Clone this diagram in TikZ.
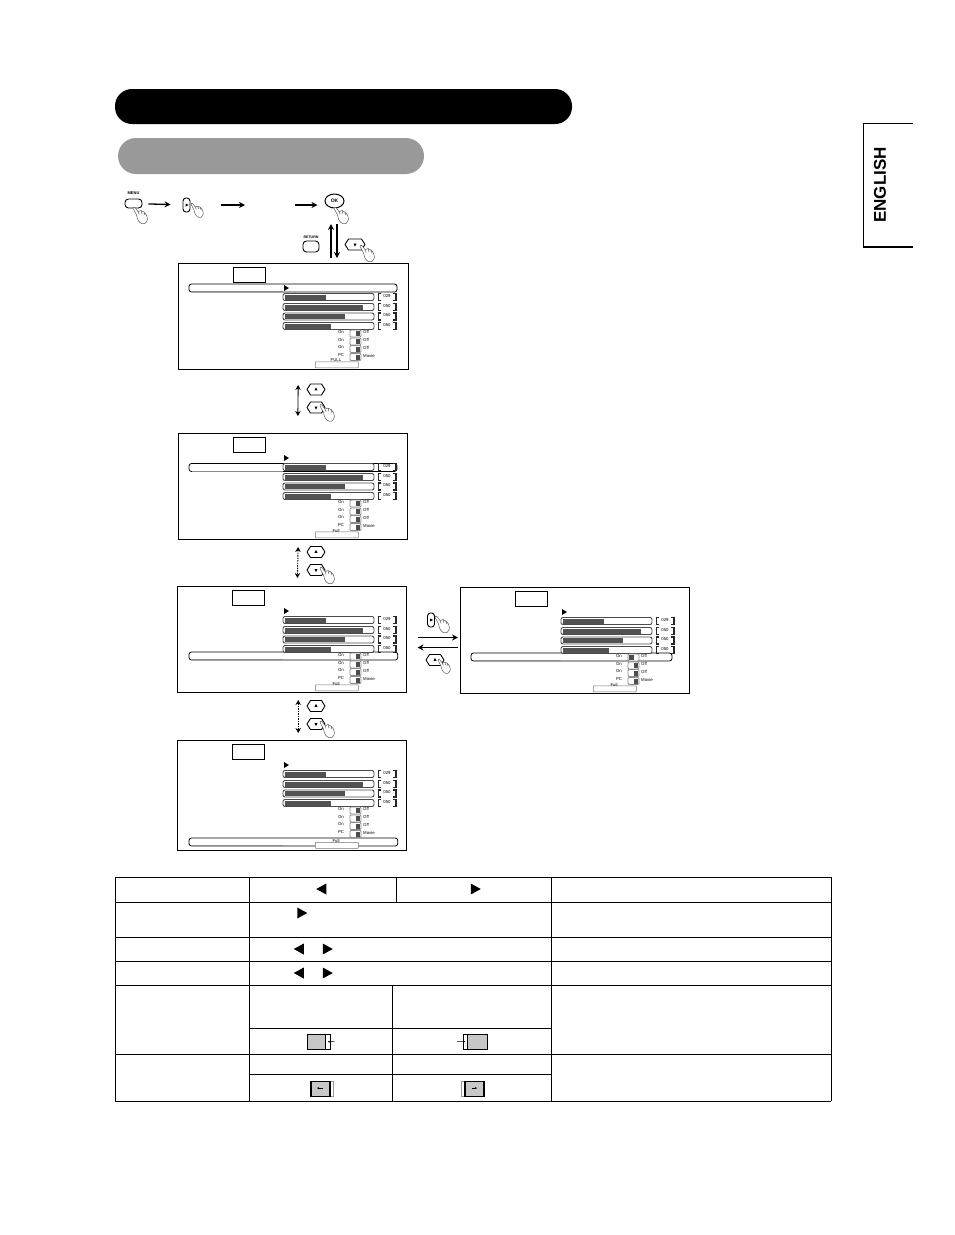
\documentclass[tikz,border=0pt]{standalone}
\usepackage{fontspec}
\setmainfont{Liberation Sans}
\usetikzlibrary{arrows.meta,shapes.geometric,shapes.symbols}

\begin{document}
\begin{tikzpicture}[x=1pt,y=-1pt,
    every node/.style={inner sep=0pt, font=\fontsize{4.3}{4.3}\selectfont},
    headbar/.style={rectangle, rounded corners=17pt, minimum width=#1, minimum height=35pt},
    keyface/.style={draw, line width=.9pt, fill=white, signal, signal to=west and east, signal pointer angle=115, line join=round, minimum width=18pt, minimum height=11pt},
    tallkey/.style={draw, line width=.9pt, fill=white, rectangle, rounded corners=3pt, minimum width=7pt, minimum height=14pt},
    flatkey/.style={draw, line width=.9pt, fill=white, rectangle, rounded corners=3.5pt},
    keytri/.style={isosceles triangle, isosceles triangle stretches, fill=black, minimum height=3pt, minimum width=3pt},
    tabletri/.style={isosceles triangle, isosceles triangle stretches, fill=black, minimum height=10pt, minimum width=11pt},
    tabbox/.style={draw, line width=1pt, rectangle, anchor=north west, minimum width=32pt, minimum height=15pt},
    panelframe/.style={draw, line width=1pt, rectangle, anchor=north west},
    selbar/.style={draw, line width=.8pt, rounded corners=2.5pt, fill=white},
    barframe/.style={draw=black!70, line width=.9pt, rounded corners=2pt, fill=white},
    barfill/.style={fill=black!68},
    valbracket/.style={draw=black!85, line width=1.1pt},
    toggleframe/.style={draw=black!45, line width=.8pt, rounded corners=1pt, fill=white},
    fullbox/.style={draw=black!55, line width=.5pt, rectangle, rounded corners=.5pt, fill=white, anchor=north west, minimum width=43pt, minimum height=6pt},
    handline/.style={draw=black!70, line width=.45pt, fill=white},
    flowarrow/.style={line width=1.3pt, -{Stealth[length=6pt,width=6pt]}},
    bothway/.style={line width=.9pt, {Stealth[length=5pt,width=5.5pt]}-{Stealth[length=5pt,width=5.5pt]}},
    bothdash/.style={bothway, dash pattern=on 1.6pt off .9pt},
    gridline/.style={line width=.9pt},
    iconshade/.style={draw, rectangle, fill=black!22, anchor=north west},
    iconstrip/.style={draw, line width=.5pt, rectangle, fill=white, anchor=north west},
    pics/handicon/.style={code={
        \draw[handline] plot[smooth cycle, tension=.6] coordinates {(0,0)(2,-.5)(5,3.5)(8,2.5)(11,4)(13.5,7)(14.5,11)(12,15.5)(7.5,15)(4.5,11)(3.5,7)};
        \draw[handline, fill=none] (5,3.5) -- (6.2,6.5) (8,2.5) -- (9,6) (11,4) -- (11.8,7);
    }},
    pics/updownkeys/.style={code={
        \node[keyface] (up) at (0,0) {};
        \node[keytri, shape border rotate=90] (uptri) at (0,0) {};
        \node[keyface] (down) at (0,18) {};
        \node[keytri, shape border rotate=270] (downtri) at (0,18) {};
        \pic at (4,16) {handicon};
    }},
    pics/menupanel/.style n args={6}{code={
        \node[panelframe, minimum width=#1, minimum height=#2] (frame) at (0,0) {};
        \node[tabbox] (tab) at (55,4) {};
        \draw[selbar] ({11+(#4>0)},#3-4) rectangle ({219+1.75*#4},#3+4);
        \draw[draw=black!45, line width=.8pt] (14,#3+3.6) -- (105+#4,#3+3.6);
        \foreach \rowy/\fillx/\valtext [count=\i] in {34/148/029,44/185/050,53.5/167/050,63/153/050}{
            \draw[barframe] (105+#4,\rowy-3.5) rectangle (196+#4,\rowy+3.5);
            \fill[barfill] (107+#4,\rowy-2.5) rectangle (\fillx+#4,\rowy+2.5);
            \draw[valbracket] (203+#4,\rowy-3.5) -- (200.5+#4,\rowy-3.5) -- (200.5+#4,\rowy+3.5) -- (203+#4,\rowy+3.5);
            \draw[valbracket] (215+#4,\rowy-3.5) -- (218+#4,\rowy-3.5) -- (218+#4,\rowy+3.5) -- (215+#4,\rowy+3.5);
            \node[fill=white] (val\i) at (209+#4,\rowy-1) {\valtext};
        }
        \fill[black] (106+#4,22) -- (111+#4,25) -- (106+#4,28) -- cycle;
        \foreach \rowy/\lefttext/\righttext/\darkx [count=\i] in {70.5/On/Off/#6,78.5/On/Off/177.5,86/On/Off/177.5,94/PC/Movie/177.5}{
            \draw[toggleframe] (172+#4,\rowy-3.5) rectangle (183+#4,\rowy+3.5);
            \fill[black!70] (\darkx+#4,\rowy-2.5) rectangle (\darkx+4.5+#4,\rowy+2.5);
            \node (left\i) at (163+#4,\rowy-1.5) {\lefttext};
            \node[anchor=west] (right\i) at (185+#4,\rowy-1.5) {\righttext};
        }
        \node[fullbox] (full) at (137+#4,#2-7.5) {};
        \node (fulltext) at (158+#4,#2-8.5) {#5};
    }}
]
    \path[use as bounding box] (0,0) rectangle (954,1235);

    \node[headbar=457pt, fill=black] (titlebar) at (343.5,106.5) {};
    \node[headbar=306pt, fill=black!40, minimum height=36pt, rounded corners=18pt] (subbar) at (271,156) {};

    \draw[line width=.8pt] (913,123) -- (863,123) -- (863,247);
    \draw[line width=1.6pt] (862.6,247) -- (913,247);
    \node[rotate=90, font=\fontsize{17}{17}\selectfont\bfseries] (english) at (880,185) {ENGLISH};

    \node[flatkey, minimum width=17pt, minimum height=9pt] (menukey) at (133.5,203.5) {};
    \node[font=\fontsize{4}{4}\selectfont\bfseries] (menutext) at (133.5,193.5) {MENU};
    \node[tallkey] (rightkey) at (186.5,205) {};
    \node[keytri, shape border rotate=0] (righttri) at (186.5,205) {};
    \node[draw, ellipse, line width=1pt, fill=white, minimum width=19pt, minimum height=14pt, font=\fontsize{5}{5}\selectfont\bfseries] (okkey) at (334.5,201) {OK};
    \node[flatkey, minimum width=16pt, minimum height=11pt] (returnkey) at (311,246.5) {};
    \node[font=\fontsize{3.6}{4}\selectfont\bfseries] (returntext) at (311,237.5) {RETURN};
    \node[keyface, minimum width=20pt] (downkey) at (355,244.5) {};
    \node[keytri, shape border rotate=270] (downkeytri) at (355,244.5) {};

    \pic at (133,208) {handicon};
    \pic[scale=.85] at (191,204) {handicon};
    \pic at (334,208) {handicon};
    \pic at (360,246) {handicon};

    \coordinate (midleft) at (245,205);
    \coordinate (midright) at (295,205);
    \coordinate (okup) at (331,224);
    \coordinate (okdown) at (337,224);
    \coordinate (panelup) at (331,258);
    \coordinate (paneldown) at (337,258);
    \draw[flowarrow, shorten <=6pt, shorten >=12pt] (menukey) -- (rightkey);
    \draw[flowarrow, shorten <=31pt] (rightkey.east |- midleft) -- (midleft);
    \draw[flowarrow, shorten >=7pt] (midright) -- (okkey.west |- midright);
    \draw[flowarrow] (panelup) -- (okup);
    \draw[flowarrow] (okdown) -- (paneldown);

    \pic (first) at (178,263) {menupanel={229.5pt}{106}{25}{0}{FULL}{177.5}};
    \pic (second) at (178,433) {menupanel={228.5pt}{106}{34.5}{0}{Full}{177.5}};
    \pic (third) at (177,586) {menupanel={228.5pt}{106}{70}{1}{Full}{177.5}};
    \pic (side) at (460,587) {menupanel={228.5pt}{106}{70}{-4}{Full}{173}};
    \pic (fourth) at (177,740) {menupanel={228.5pt}{109.5}{102}{1}{Full}{177.5}};

    \pic (keysa) at (316,389.5) {updownkeys};
    \pic (keysb) at (316,552) {updownkeys};
    \pic (keysc) at (316,706) {updownkeys};

    \draw[bothway, shorten <=15pt, shorten >=17pt] ([xshift=5pt]firstframe.south) -- ([xshift=5pt]secondframe.north);
    \draw[bothdash, shorten <=7pt, shorten >=8pt] ([xshift=5.5pt]secondframe.south) -- ([xshift=5.5pt]thirdframe.north);
    \draw[bothdash, shorten <=7pt, shorten >=7pt] ([xshift=6.5pt]thirdframe.south) -- ([xshift=6.5pt]fourthframe.north);

    \node[tallkey] (sideright) at (431,620) {};
    \node[keytri, shape border rotate=0] (siderighttri) at (431,620) {};
    \node[keyface] (sideup) at (435,660) {};
    \node[keytri, shape border rotate=90] (sideuptri) at (435,660) {};
    \pic at (435,617) {handicon};
    \pic[scale=.85] at (438,660) {handicon};
    \draw[flowarrow, shorten <=11pt, shorten >=2pt] ([yshift=2pt]thirdframe.east) -- ([yshift=3pt]sideframe.west);
    \draw[flowarrow, shorten <=2pt, shorten >=11pt] ([yshift=-7pt]sideframe.west) -- ([yshift=-8pt]thirdframe.east);

    \foreach \liney in {877,902,937,961,985,1054,1101}
        \draw[gridline] (115,\liney) -- (831,\liney);
    \foreach \liney in {1028,1074}
        \draw[gridline] (249,\liney) -- (551,\liney);
    \foreach \linex in {115,249,551,831}
        \draw[gridline] (\linex,877) -- (\linex,1101);
    \draw[gridline] (396,877) -- (396,902);
    \draw[gridline] (392,985) -- (392,1101);

    \foreach \trix/\triy/\rot [count=\i] in {323/889/180,474/889/0,300.5/913/0,300.5/949/180,326/949/0,300.5/973/180,326/973/0}
        \node[tabletri, shape border rotate=\rot] (tri\i) at (\trix,\triy) {};

    \node[iconshade, minimum width=18pt, minimum height=15pt, line width=.6pt] (shadea) at (307,1034) {};
    \node[iconstrip, minimum width=5pt, minimum height=15pt] (stripa) at (325,1034) {};
    \coordinate (enda) at (334.5,1041.5);
    \draw[-{Stealth[length=2pt,width=2pt]}, line width=.5pt] (enda) -- (stripa.center);

    \node[iconshade, minimum width=19.5pt, minimum height=15pt, line width=1pt] (shadeb) at (467,1034) {};
    \node[iconstrip, minimum width=4pt, minimum height=15pt] (stripb) at (463,1034) {};
    \coordinate (endb) at (457,1041.5);
    \draw[-{Stealth[length=2pt,width=2pt]}, line width=.5pt] (endb) -- (stripb.center);

    \node[iconstrip, minimum width=23pt, minimum height=15pt, draw=black!40] (stripc) at (310,1080.5) {};
    \node[iconshade, minimum width=19pt, minimum height=15pt, line width=1.8pt] (shadec) at (310,1080.5) {};
    \coordinate (endc) at (322.5,1088);
    \draw[-{Stealth[length=2pt,width=2pt]}, line width=.5pt] (endc) -- (317,1088);

    \node[iconstrip, minimum width=22pt, minimum height=15pt, draw=black!40] (stripd) at (461,1080.5) {};
    \node[iconshade, minimum width=19pt, minimum height=15pt, line width=1.8pt] (shaded) at (464,1080.5) {};
    \coordinate (endd) at (472,1088);
    \draw[-{Stealth[length=2pt,width=2pt]}, line width=.5pt] (endd) -- (477,1088);
\end{tikzpicture}
\end{document}
